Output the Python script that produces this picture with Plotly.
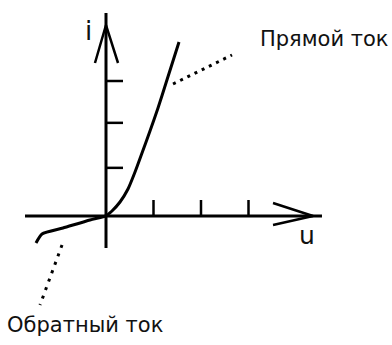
import plotly.graph_objects as go

# Diode I-V characteristic, drawn in (u, i) units
# forward branch
fwd_u = [0.0, 0.126, 0.295, 0.463, 0.611, 0.758, 0.926, 1.095, 1.263, 1.537]
fwd_i = [0.0, 0.111, 0.311, 0.600, 0.978, 1.400, 1.889, 2.400, 2.956, 3.867]
# reverse branch
rev_u = [0.0, -0.337, -0.905, -1.347, -1.474]
rev_i = [0.0, -0.089, -0.267, -0.400, -0.600]

# axis extents and arrow heads
u_axis = [-1.705, 4.547]
i_axis = [-0.711, 4.511]
u_arrow_u = [3.516, 4.358, 3.516]
u_arrow_i = [0.289, 0.0, -0.200]
i_arrow_u = [-0.232, 0.0, 0.253]
i_arrow_i = [3.400, 4.244, 3.400]

# tick marks
u_ticks = [1, 2, 3]
u_tick_len = 0.356
i_ticks = [1.07, 2.07, 3.0]
i_tick_len = 0.358

# leader lines to the labels
fwd_leader_u = [1.411, 2.653]
fwd_leader_i = [2.933, 3.578]
rev_leader_u = [-0.926, -1.389]
rev_leader_i = [-0.644, -1.978]

labels = ["Прямой ток", "Обратный ток", "i", "u"]
label_u = [3.2, -2.126, -0.379, 4.232]
label_i = [3.933, -2.422, 4.111, -0.444]
label_size = [21, 21, 26, 25]

fig = go.Figure()

def line(x, y, width=3, dash="solid", shape="linear"):
    fig.add_trace(go.Scatter(x=x, y=y, mode="lines",
                             line=dict(color="black", width=width, dash=dash, shape=shape,
                                       smoothing=0.6),
                             hoverinfo="skip", showlegend=False))

# axes
line(u_axis, [0, 0], width=3)
line([0, 0], i_axis, width=3)
line(u_arrow_u, u_arrow_i, width=2.5)
line(i_arrow_u, i_arrow_i, width=2.5)

# ticks
for t in u_ticks:
    line([t, t], [0, u_tick_len], width=2.5)
for t in i_ticks:
    line([0, i_tick_len], [t, t], width=2.5)

# curves
line(fwd_u, fwd_i, width=3, shape="spline")
line(rev_u, rev_i, width=3, shape="spline")

# leaders
line(fwd_leader_u, fwd_leader_i, width=3, dash="3px,5px")
line(rev_leader_u, rev_leader_i, width=3, dash="3px,6px")

for txt, x, y, s in zip(labels, label_u, label_i, label_size):
    fig.add_annotation(x=x, y=y, text=txt, showarrow=False,
                       xanchor="left" if len(txt) > 1 else "center", yanchor="middle",
                       font=dict(family="DejaVu Sans", size=s, color="#111"))

fig.update_layout(
    width=392, height=345, autosize=False,
    margin=dict(l=0, r=0, t=0, b=0),
    paper_bgcolor="white", plot_bgcolor="white",
    xaxis=dict(range=[-2.2316, 6.021], visible=False, fixedrange=True),
    yaxis=dict(range=[-2.8667, 4.8], visible=False, fixedrange=True),
)

fig.write_html("out.html")
